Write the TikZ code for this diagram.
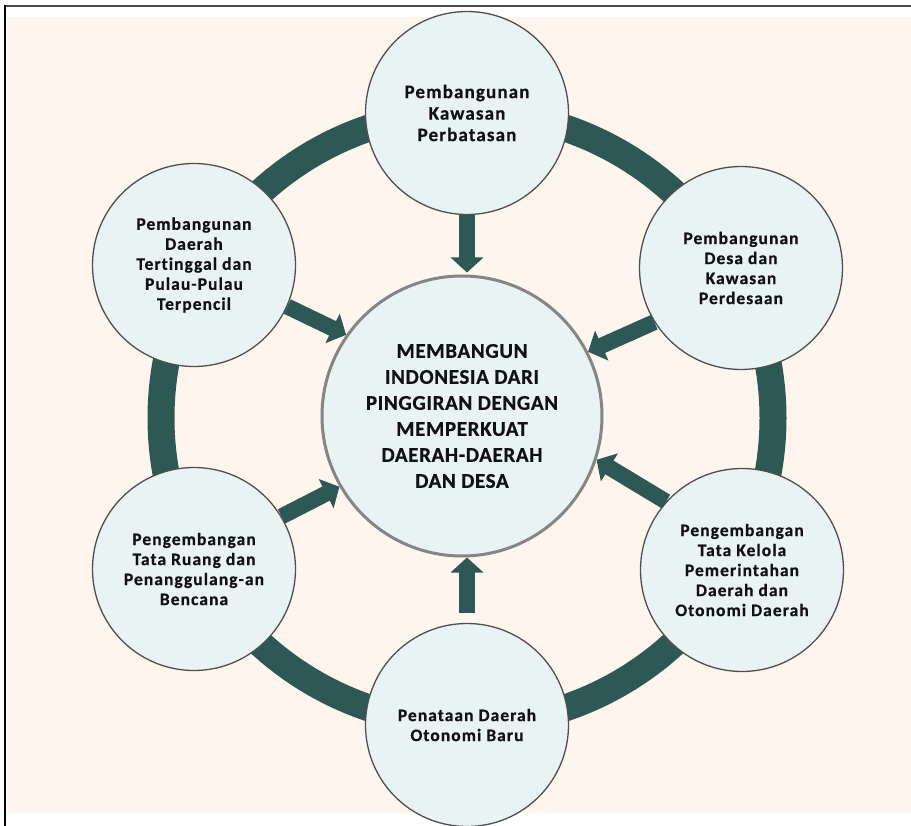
\documentclass[tikz,border=0pt]{standalone}
\usepackage{fontspec}
\setmainfont{Carlito}
\newfontfamily\lblfont[LetterSpace=6, Ligatures=NoCommon, BoldFeatures={FakeBold=0.6}]{Carlito}
\newfontfamily\hubfont[LetterSpace=3, Ligatures=NoCommon, BoldFeatures={FakeBold=0.6}]{Carlito}
\usetikzlibrary{arrows.meta}
\definecolor{pagebg}{HTML}{FEF5EF}
\definecolor{ringteal}{HTML}{2E5853}
\definecolor{discfill}{HTML}{EAF3F4}
\definecolor{discline}{HTML}{4F4F4F}
\definecolor{hubline}{HTML}{858585}
\definecolor{inkc}{HTML}{111111}

\begin{document}
\begin{tikzpicture}[x=1pt,y=-1pt,
  disc/.style={circle, draw=discline, line width=1.3pt, fill=discfill,
    minimum size=203pt, inner sep=0pt, align=center, text=inkc,
    font=\lblfont\bfseries\fontsize{17.5}{20}\selectfont},
  topdisc/.style={disc, font=\lblfont\bfseries\fontsize{19}{21.5}\selectfont},
  hub/.style={circle, draw=hubline, line width=3pt, fill=discfill,
    minimum size=280pt, inner sep=0pt, align=center, text=inkc,
    font=\hubfont\bfseries\fontsize{21}{26}\selectfont},
  flowarrow/.style={draw=ringteal, line width=16pt,
    -{Triangle[length=15pt,width=32pt]}},
]
\useasboundingbox (0,0) rectangle (911,826);
% page, frame and tinted panel
\fill[white] (0,0) rectangle (911,826);
\fill[pagebg] (6.7,16.7) rectangle (911,812.5);
\draw[black!70, line width=2pt] (5,6) -- (911,6);
\draw[black, line width=2pt] (5,5) -- (5,826);

% ring linking the six programmes
\coordinate (ringc) at (467,418);
\draw[ringteal, line width=27pt] (ringc) circle[radius=306];

% central goal
\node[hub] (c) at (462,416) {MEMBANGUN\\INDONESIA DARI\\PINGGIRAN DENGAN\\MEMPERKUAT\\DAERAH-DAERAH\\DAN DESA};

% programmes around the ring
\node[topdisc] (t) at (467,113) {Pembangunan\\Kawasan\\Perbatasan};
\node[disc] (tr) at (741,268) {Pembangunan\\Desa dan\\Kawasan\\Perdesaan};
\node[disc] (br) at (742,570) {Pengembangan\\Tata Kelola\\Pemerintahan\\Daerah dan\\Otonomi Daerah};
\node[disc] (b) at (467,725) {Penataan Daerah\\Otonomi Baru};
\node[disc] (bl) at (194,569) {Pengembangan\\Tata Ruang dan\\Penanggulang-an\\Bencana};
\node[disc] (tl) at (194,265) {Pembangunan\\Daerah\\Tertinggal dan\\Pulau-Pulau\\Terpencil};

% arrows into the central goal
\draw[flowarrow, shorten >=2pt] (t.south) -- (t.south |- c.north);
\draw[flowarrow] (tr.212) -- (c.27);
\draw[flowarrow] (br.138) -- (c.-18);
\draw[flowarrow, shorten <=10pt] (b.north) -- (b.north |- c.south);
\draw[flowarrow] (bl.31) -- (c.210);
\draw[flowarrow] (tl.-24) -- (c.145);
\end{tikzpicture}
\end{document}
